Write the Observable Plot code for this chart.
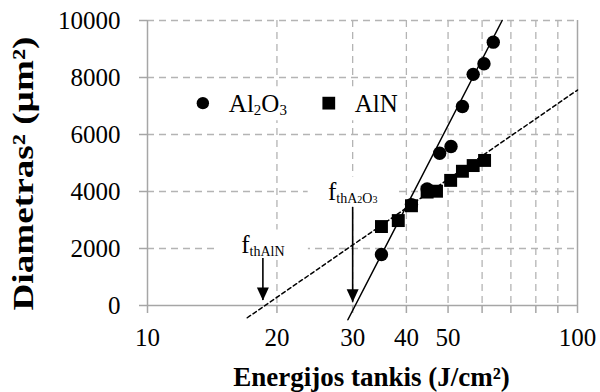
<!DOCTYPE html>
<html><head><meta charset="utf-8">
<script src="https://cdn.jsdelivr.net/npm/d3@7"></script>
<script src="https://cdn.jsdelivr.net/npm/@observablehq/plot@0.6"></script>
<style>body{margin:0;background:#fff;} svg text{font-family:'Liberation Serif','Times New Roman',Times,serif;}</style>
</head><body><div id="chart"></div>
<script>
// ---- data ----
const al2o3X = [35.0, 41.1, 44.7, 47.8, 50.8, 54.0, 57.2, 60.6, 63.7];
const al2o3Y = [1790, 3540, 4090, 5340, 5580, 6980, 8110, 8480, 9240];
const alnX = [35.0, 38.3, 41.1, 44.7, 47.0, 50.7, 54.0, 57.2, 60.8];
const alnY = [2770, 2980, 3500, 3980, 4010, 4390, 4710, 4910, 5090];
const al2o3FitX = [29.24, 66.8];
const al2o3FitY = [-500, 10000];
const alnFitX = [17.06, 100];
const alnFitY = [-430, 7560];
const thresholdNames = ["fthAlN", "fthA2O3"];
const thresholdX = [18.55, 30.0];
const arrowTopY = [1650, 3440];
const arrowTipY = [175, 115];
const thresholdLabelY = [2140, 4000];
const seriesNames = ["Al2O3", "AlN"];
const xTicks = [10, 20, 30, 40, 50, 60, 70, 80, 90, 100];
const xTickLabels = [10, 20, 30, 40, 50, 100];
const yTicks = [0, 2000, 4000, 6000, 8000, 10000];
const xTitle = "Energijos tankis (J/cm²)";
const yTitle = "Diametras² (µm²)";

// ---- build ----
const font = "'Liberation Serif','Times New Roman',Times,serif";
const gridColor = "#b4b4b4";
const axisColor = "#a6a6a6";
const pts = (xs, ys) => xs.map((x, i) => ({x, y: ys[i]}));
const al2o3 = pts(al2o3X, al2o3Y);
const aln = pts(alnX, alnY);
const thr = thresholdNames.map((name, i) => ({name, x: thresholdX[i], top: arrowTopY[i], tip: arrowTipY[i], ly: thresholdLabelY[i]}));

const rectSym = (x0, y0, w, h) => ({draw(c) { c.moveTo(x0, y0); c.lineTo(x0 + w, y0); c.lineTo(x0 + w, y0 + h); c.lineTo(x0, y0 + h); c.closePath(); }});
const arrowHead = {draw(c) { c.moveTo(-6, -13); c.lineTo(6, -13); c.lineTo(0, 0); c.closePath(); }};

const legendAnchor = {x: 13.45, y: 7100};
const legendEntries = [
  {name: seriesNames[0], x: 13.45, y: 7100},
  {name: seriesNames[1], x: 26.4, y: 7100}
];

const chart = Plot.plot({
  width: 600, height: 392,
  marginLeft: 147, marginRight: 23, marginTop: 20, marginBottom: 87,
  style: {fontFamily: font, fontSize: "25px", background: "white", color: "black"},
  x: {type: "log", domain: [10, 100]},
  y: {domain: [0, 10000]},
  marks: [
    Plot.ruleX(xTicks.filter(d => d > 10 && d < 100), {stroke: gridColor, strokeWidth: 1.3, strokeDasharray: "7,5"}),
    Plot.ruleY(yTicks.filter(d => d > 0), {stroke: gridColor, strokeWidth: 1.3, strokeDasharray: "7,5"}),
    Plot.ruleX([10, 100], {stroke: axisColor, strokeWidth: 1.5}),
    Plot.ruleY([0], {stroke: axisColor, strokeWidth: 1.5}),
    Plot.axisX({ticks: xTicks, tickFormat: d => xTickLabels.includes(d) ? String(d) : "", tickSize: 8, tickPadding: 15,
      stroke: axisColor, strokeWidth: 1.5, fill: "black", fontSize: 25, fontFamily: font, label: null}),
    Plot.axisY({ticks: yTicks, tickFormat: d => String(d), tickSize: 8, tickPadding: 19,
      stroke: axisColor, strokeWidth: 1.5, fill: "black", fontSize: 25, fontFamily: font, label: null}),
    // white boxes behind legend and threshold labels
    Plot.dot([legendAnchor], {x: "x", y: "y", symbol: rectSym(-14, -17, 213, 34), fill: "white", stroke: null}),
    Plot.dot(thr, {x: "x", y: "ly", symbol: rectSym(-45, -15, 90, 30), fill: "white", stroke: null}),
    // fit lines
    Plot.line(pts(alnFitX, alnFitY), {x: "x", y: "y", stroke: "black", strokeWidth: 1.5, strokeDasharray: "4,3"}),
    Plot.line(pts(al2o3FitX, al2o3FitY), {x: "x", y: "y", stroke: "black", strokeWidth: 1.5}),
    // threshold arrows
    Plot.ruleX(thr, {x: "x", y1: "top", y2: "tip", stroke: "black", strokeWidth: 1.6}),
    Plot.dot(thr, {x: "x", y: "tip", symbol: arrowHead, fill: "black", stroke: null}),
    Plot.text(thr, {x: "x", y: "ly", text: "name", textAnchor: "middle", fontSize: 25, fontFamily: font}),
    // data
    Plot.dot(aln, {x: "x", y: "y", symbol: "square", r: 7.3, fill: "black"}),
    Plot.dot(al2o3, {x: "x", y: "y", symbol: "circle", r: 6.7, fill: "black"}),
    // legend
    Plot.dot([legendEntries[0]], {x: "x", y: "y", symbol: "circle", r: 6.2, fill: "black"}),
    Plot.dot([legendEntries[1]], {x: "x", y: "y", symbol: "square", r: 7.2, fill: "black"}),
    Plot.text(legendEntries, {x: "x", y: "y", text: "name", dx: 26, dy: 1, textAnchor: "start", fontSize: 25, fontFamily: font}),
    // axis titles
    Plot.text([xTitle], {frameAnchor: "bottom", text: d => d, textAnchor: "middle", lineAnchor: "middle",
      dx: 9, dy: 72, fontSize: 27, fontWeight: "bold", fontFamily: font}),
    Plot.text([yTitle], {frameAnchor: "left", text: d => d, rotate: -90, textAnchor: "middle", lineAnchor: "middle",
      dx: -124, dy: 10.5, fontSize: 30, fontWeight: "bold", fontFamily: font})
  ]
});

// rich text (subscripts) and title length
const rich = {
  "Al2O3": [["Al", null, 0], ["2", 15, 3], ["O", null, -3], ["3", 15, 3]],
  "fthAlN": [["f", null, 0], ["thAlN", 14, 3]],
  "fthA2O3": [["f", null, 0], ["thA", 14, 3], ["2", 10, 0], ["O", 14, 0], ["3", 10, 0]]
};
chart.querySelectorAll("text").forEach(t => {
  const s = t.textContent;
  if (s === "") { t.remove(); return; }
  if (s === yTitle) { t.setAttribute("textLength", 274); t.setAttribute("lengthAdjust", "spacingAndGlyphs"); return; }
  const spec = rich[s];
  if (!spec) return;
  while (t.firstChild) t.removeChild(t.firstChild);
  for (const [str, size, dy] of spec) {
    const ts = document.createElementNS("http://www.w3.org/2000/svg", "tspan");
    if (size) ts.setAttribute("font-size", size);
    if (dy) ts.setAttribute("dy", dy);
    ts.textContent = str;
    t.appendChild(ts);
  }
});
document.getElementById("chart").appendChild(chart);
</script>
</body></html>
